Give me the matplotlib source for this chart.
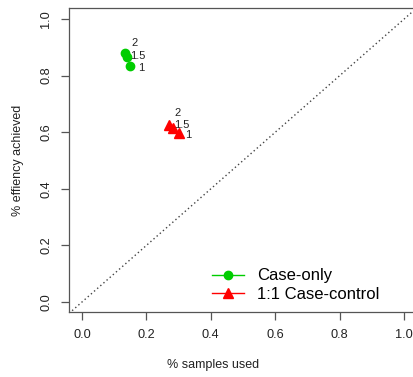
import matplotlib
matplotlib.use("Agg")
import matplotlib.pyplot as plt
from matplotlib.lines import Line2D

plt.rcParams['font.family'] = ['Liberation Sans', 'DejaVu Sans']

# ratio labels
ratios = ["1", "1.5", "2"]

# case-only design
case_only_x = [0.149, 0.139, 0.134]
case_only_y = [0.834, 0.866, 0.879]

# 1:1 case-control design
case_ctrl_x = [0.302, 0.284, 0.271]
case_ctrl_y = [0.598, 0.614, 0.625]

ticks = [0.0, 0.2, 0.4, 0.6, 0.8, 1.0]
tick_labels = ["0.0", "0.2", "0.4", "0.6", "0.8", "1.0"]

green = "#00CD00"
red = "#FF0000"
axcol = "#555555"

fig = plt.figure(figsize=(4.14, 3.77), dpi=100)
ax = fig.add_axes([69 / 414, 1 - 312 / 377, 348 / 414, 304 / 377])

ax.set_xlim(-0.04, 1.04)
ax.set_ylim(-0.035, 1.039)

# identity line
ax.plot([-0.04, 1.04], [-0.04, 1.04], linestyle=(0, (1.0, 2.0)), color="#444444", lw=1.0)

ax.plot(case_only_x, case_only_y, "o", color=green, markersize=6, clip_on=False)
ax.plot(case_ctrl_x, case_ctrl_y, "^", color=red, markersize=6.5, clip_on=False)

# label offsets in pixels (dx, dy)
green_off = [(8, -2), (3, 1), (6, 10)]
red_off = [(6, -2), (1, 3), (5, 12)]
for lab, x, y, off in zip(ratios, case_only_x, case_only_y, green_off):
    ax.annotate(lab, (x, y), xytext=off, textcoords="offset pixels",
                ha="left", va="center", fontsize=8, color="#222222")
for lab, x, y, off in zip(ratios, case_ctrl_x, case_ctrl_y, red_off):
    ax.annotate(lab, (x, y), xytext=off, textcoords="offset pixels",
                ha="left", va="center", fontsize=8, color="#222222")

ax.set_xticks(ticks)
ax.set_xticklabels(tick_labels)
ax.set_yticks(ticks)
ax.set_yticklabels(tick_labels, rotation=90, va="center")
ax.tick_params(direction="out", length=6, width=0.9, color=axcol,
               labelsize=9.2, labelcolor="#222222", pad=6)

ax.spines["right"].set_visible(False)
for s in ["left", "bottom", "top"]:
    ax.spines[s].set_color(axcol)
    ax.spines[s].set_linewidth(0.9)

fig.text(213 / 414, 1 - 365 / 377, "% samples used", ha="center", va="center",
         fontsize=9, color="#222222")
fig.text(18 / 414, 1 - 160 / 377, "% effiency achieved", ha="center", va="center",
         rotation=90, fontsize=9, color="#222222")

handles = [
    Line2D([], [], color=green, marker="o", markersize=6, lw=1),
    Line2D([], [], color=red, marker="^", markersize=6.5, lw=1),
]
ax.legend(handles, ["Case-only", "1:1 Case-control"], frameon=False,
          loc="center left", bbox_to_anchor=(212 / 414, 1 - 285 / 377),
          bbox_transform=fig.transFigure, fontsize=12, handlelength=1.9,
          handletextpad=0.8, labelspacing=0.2, borderpad=0, borderaxespad=0)

fig.savefig("out.png", dpi=100)
